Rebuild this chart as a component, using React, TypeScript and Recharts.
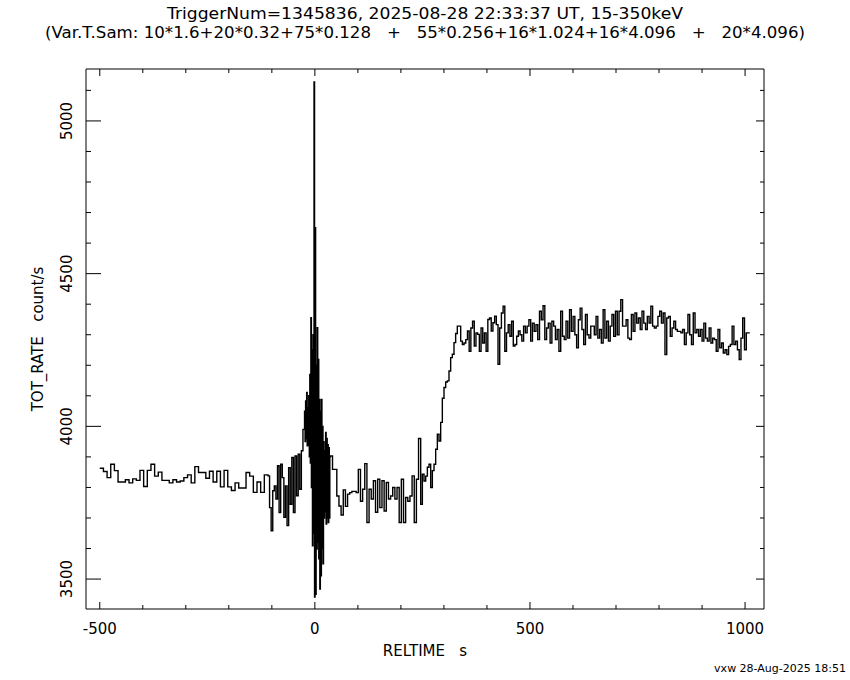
import { LineChart, Line, XAxis, YAxis } from 'recharts';

// count rates (count/s), one value per time bin
const preRates = [
  3863, 3852, 3832, 3876, 3855, 3818, 3818, 3825, 3815, 3828, 3823, 3856, 3803, 3856, 3876, 3837,
  3850, 3823, 3823, 3815, 3825, 3818, 3821, 3832, 3841, 3815, 3868, 3849, 3849, 3830, 3853, 3818,
  3853, 3802, 3856, 3802, 3790, 3815, 3798, 3798, 3849, 3837, 3784, 3818, 3784, 3841,
];
const burstARates = [
  3838, 3734, 3658, 3789, 3805, 3762, 3871, 3718, 3876, 3832, 3702, 3805, 3675, 3865, 3745, 3898,
  3718, 3903, 3773, 3909, 3794, 3920, 3990,
];
const burstBRates = [
  4050, 3950, 4083, 3960, 4111, 3936, 4060, 3940, 4100, 3900, 4170, 3880, 4356, 3800, 4250, 3609,
  4300, 3650, 5128, 3441, 4650, 3450, 4200, 3598, 4323, 3620, 4219, 3566, 4088, 3467, 4050, 3511,
  4088, 3600, 4000, 3550, 3950, 3700, 3920, 3720, 3980, 3680, 3960, 3700, 3940, 3685, 3930, 3700,
  3900,
];
const decayRates = [
  3903, 3859, 3859, 3772, 3739, 3710, 3792, 3738, 3778, 3783, 3787, 3787, 3783, 3859, 3755, 3794,
  3878, 3685, 3794, 3762, 3822, 3719, 3827, 3734, 3822, 3723, 3816, 3762, 3772, 3800, 3762, 3800,
  3685, 3827, 3685, 3767, 3755, 3772, 3838, 3685, 3827, 3960,
];
const riseRates = [
  3745, 3843, 3821, 3837, 3866, 3876, 3800, 3855, 3876, 3925, 3974, 3952, 4013, 4092, 4127, 4145,
  4149, 4181, 4225, 4236, 4274, 4304, 4328,
];
const plateauARates = [
  4328, 4279, 4268, 4273, 4284, 4312, 4246, 4322, 4344, 4263, 4306, 4301, 4246, 4322, 4273, 4306,
  4246, 4350, 4355, 4312, 4339, 4361, 4333, 4203, 4322, 4371, 4393, 4246, 4306, 4333, 4295, 4344,
  4263, 4268, 4295, 4312,
];
const plateauBRates = [
  4300, 4279, 4328, 4306, 4328, 4349, 4279, 4338, 4311, 4333, 4284, 4377, 4349, 4395, 4284, 4322,
  4338, 4273, 4344, 4328, 4284, 4317, 4246, 4377, 4295, 4284, 4344, 4289, 4382, 4311, 4360, 4300,
  4257, 4349, 4387, 4317, 4268, 4366, 4300, 4289, 4328, 4328, 4300, 4360, 4289, 4317, 4273, 4382,
  4289, 4344, 4279, 4328, 4366, 4295, 4377, 4300, 4377, 4415, 4328, 4328, 4349, 4289, 4284, 4366,
  4311, 4371, 4338, 4355, 4317, 4377, 4338, 4317, 4360, 4338, 4393, 4328, 4322, 4328, 4360, 4377,
  4338, 4371, 4235, 4355, 4360, 4295, 4322, 4344, 4317, 4311, 4311, 4306, 4317, 4268, 4306, 4366,
  4300, 4268, 4371, 4306, 4317, 4295, 4317, 4279, 4338, 4289, 4279, 4322, 4273, 4289, 4284, 4246,
  4317, 4257, 4273, 4240, 4251, 4235, 4262, 4268, 4328, 4268, 4279, 4251, 4219, 4289, 4355, 4251,
  4306, 4306,
];

// time ranges (s, relative to trigger) covered by each block of bins
const segments = [
  { start: -500, end: -109, rates: preRates },
  { start: -109, end: -24, rates: burstARates },
  { start: -24, end: 36, rates: burstBRates },
  { start: 36, end: 246, rates: decayRates },
  { start: 246, end: 335, rates: riseRates },
  { start: 335, end: 477, rates: plateauARates },
  { start: 477, end: 1011, rates: plateauBRates },
];

const xTicks = [-500, -400, -300, -200, -100, 0, 100, 200, 300, 400, 500, 600, 700, 800, 900, 1000];
const yTicks = [3500, 3600, 3700, 3800, 3900, 4000, 4100, 4200, 4300, 4400, 4500, 4600, 4700, 4800, 4900, 5000, 5100];
const xLabels = [-500, 0, 500, 1000];
const yLabels = [3500, 4000, 4500, 5000];

const data: { t: number; rate: number }[] = [];
segments.forEach((s) => {
  const w = (s.end - s.start) / s.rates.length;
  s.rates.forEach((r, i) => data.push({ t: s.start + i * w, rate: r }));
});
const lastSeg = segments[segments.length - 1];
data.push({ t: lastSeg.end, rate: lastSeg.rates[lastSeg.rates.length - 1] });

const FONT = '"DejaVu Sans", sans-serif';

const BottomTick = (p: any) => {
  const major = xLabels.includes(p.payload.value);
  return (
    <g>
      <line x1={p.x} x2={p.x} y1={p.y} y2={p.y - (major ? 7 : 4)} stroke="#000" />
      {major && (
        <text x={p.x} y={p.y + 25} textAnchor="middle" fontSize={15} fontFamily={FONT} fill="#000">
          {p.payload.value}
        </text>
      )}
    </g>
  );
};

const TopTick = (p: any) => {
  const major = xLabels.includes(p.payload.value);
  return <line x1={p.x} x2={p.x} y1={p.y} y2={p.y + (major ? 7 : 4)} stroke="#000" />;
};

const LeftTick = (p: any) => {
  const major = yLabels.includes(p.payload.value);
  const lx = p.x - 14;
  return (
    <g>
      <line x1={p.x} x2={p.x + (major ? 15 : 5)} y1={p.y} y2={p.y} stroke="#000" />
      {major && (
        <text x={lx} y={p.y} transform={`rotate(-90 ${lx} ${p.y})`} textAnchor="middle"
          fontSize={15} fontFamily={FONT} fill="#000">
          {p.payload.value}
        </text>
      )}
    </g>
  );
};

const RightTick = (p: any) => {
  const major = yLabels.includes(p.payload.value);
  return <line x1={p.x} x2={p.x - (major ? 8 : 4)} y1={p.y} y2={p.y} stroke="#000" />;
};

export default function App() {
  return (
    <div style={{ position: 'absolute', left: 0, top: 0, width: 850, height: 680, background: '#fff' }}>
      <LineChart width={850} height={680} data={data} margin={{ top: 0, right: 0, bottom: 0, left: 0 }}>
        <XAxis xAxisId="b" dataKey="t" type="number" domain={[-532, 1044]} allowDataOverflow
          ticks={xTicks} interval={0} tickSize={0} tickMargin={0} tickLine={false}
          tick={(p: any) => <BottomTick {...p} />} height={71} axisLine={{ stroke: '#000' }} />
        <XAxis xAxisId="t" orientation="top" dataKey="t" type="number" domain={[-532, 1044]} allowDataOverflow
          ticks={xTicks} interval={0} tickSize={0} tickMargin={0} tickLine={false}
          tick={(p: any) => <TopTick {...p} />} height={69} axisLine={{ stroke: '#000' }} />
        <YAxis yAxisId="l" type="number" domain={[3402, 5170]} allowDataOverflow
          ticks={yTicks} interval={0} tickSize={0} tickMargin={0} tickLine={false}
          tick={(p: any) => <LeftTick {...p} />} width={86} axisLine={{ stroke: '#000' }} />
        <YAxis yAxisId="r" orientation="right" type="number" domain={[3402, 5170]} allowDataOverflow
          ticks={yTicks} interval={0} tickSize={0} tickMargin={0} tickLine={false}
          tick={(p: any) => <RightTick {...p} />} width={86} axisLine={{ stroke: '#000' }} />
        <Line xAxisId="b" yAxisId="l" dataKey="rate" type="stepAfter" stroke="#000" strokeWidth={1.4}
          dot={false} activeDot={false} isAnimationActive={false} />
      </LineChart>
      <svg width={850} height={680} style={{ position: 'absolute', left: 0, top: 0, pointerEvents: 'none' }}>
        <g fontFamily={FONT} fill="#000">
          <text x={425} y={19} textAnchor="middle" fontSize={15} textLength={516} lengthAdjust="spacingAndGlyphs">
            TriggerNum=1345836, 2025-08-28 22:33:37 UT, 15-350keV
          </text>
          <text x={425} y={38} textAnchor="middle" fontSize={15} textLength={760} lengthAdjust="spacingAndGlyphs"
            xmlSpace="preserve">
            {'(Var.T.Sam: 10*1.6+20*0.32+75*0.128   +   55*0.256+16*1.024+16*4.096   +   20*4.096)'}
          </text>
          <text x={425} y={656} textAnchor="middle" fontSize={15} xmlSpace="preserve">{'RELTIME   s'}</text>
          <text x={43} y={339} textAnchor="middle" fontSize={15} transform="rotate(-90 43 339)" xmlSpace="preserve">
            {'TOT_RATE   count/s'}
          </text>
          <text x={846} y={672} textAnchor="end" fontSize={11}>vxw 28-Aug-2025 18:51</text>
        </g>
      </svg>
    </div>
  );
}
